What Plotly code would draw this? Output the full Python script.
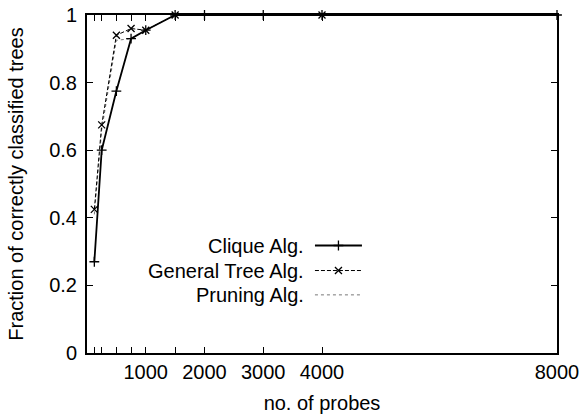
import plotly.graph_objects as go

# Data
x_ticks_all = [125, 250, 500, 750, 1000, 1500, 2000, 3000, 4000, 8000]
x_tick_text = ["", "", "", "", "1000", "", "2000", "3000", "4000", "8000"]
y_ticks = [0, 0.2, 0.4, 0.6, 0.8, 1]
y_tick_text = ["0", "0.2", "0.4", "0.6", "0.8", "1"]

clique_x = [125, 250, 500, 750, 1000, 1500, 2000, 3000, 4000, 8000]
clique_y = [0.27, 0.60, 0.775, 0.93, 0.955, 1.0, 1.0, 1.0, 1.0, 1.0]

gtree_x = [125, 250, 500, 750, 1000, 1500, 4000]
gtree_y = [0.425, 0.675, 0.94, 0.96, 0.955, 1.0, 1.0]

prune_x = [125, 250, 500, 750, 1000, 1500, 2000, 4000, 8000]
prune_y = [0.41, 0.66, 0.925, 0.93, 0.955, 1.0, 1.0, 1.0, 1.0]

legend_names = ["Clique Alg.", "General Tree Alg.", "Pruning Alg."]

FONT = "Liberation Sans, Arial, Helvetica, sans-serif"
FS = 20

fig = go.Figure()

fig.add_trace(go.Scatter(
    x=prune_x, y=prune_y, mode="lines",
    line=dict(color="#777777", width=1, dash="dot"),
    showlegend=False, cliponaxis=False))
fig.add_trace(go.Scatter(
    x=gtree_x, y=gtree_y, mode="lines+markers",
    line=dict(color="black", width=1, dash="4px,2px"),
    marker=dict(symbol="x-thin", size=7, line=dict(color="black", width=1.3)),
    showlegend=False, cliponaxis=False))
fig.add_trace(go.Scatter(
    x=clique_x, y=clique_y, mode="lines+markers",
    line=dict(color="black", width=1.8),
    marker=dict(symbol="cross-thin", size=7, line=dict(color="black", width=1.3)),
    showlegend=False, cliponaxis=False))

# Gnuplot-style key: text right-aligned, sample line on the right (on a hidden overlay axis)
key_y = [0.318, 0.244, 0.172]
sample_x0, sample_x1 = 0.485, 0.585
styles = [
    dict(line=dict(color="black", width=1.8), symbol="cross-thin"),
    dict(line=dict(color="black", width=1, dash="4px,2px"), symbol="x-thin"),
    dict(line=dict(color="#777777", width=1, dash="dot"), symbol=None),
]
for name, ky, st in zip(legend_names, key_y, styles):
    fig.add_trace(go.Scatter(
        x=[sample_x0, sample_x1], y=[ky, ky], mode="lines",
        line=st["line"], xaxis="x2", yaxis="y2", showlegend=False, hoverinfo="skip"))
    if st["symbol"]:
        fig.add_trace(go.Scatter(
            x=[(sample_x0 + sample_x1) / 2], y=[ky], mode="markers",
            marker=dict(symbol=st["symbol"], size=7, line=dict(color="black", width=1.3)),
            xaxis="x2", yaxis="y2", showlegend=False, hoverinfo="skip"))
    fig.add_annotation(
        x=0.465, y=ky, xref="x2", yref="y2", text=name, showarrow=False,
        xanchor="right", yanchor="middle", font=dict(family=FONT, size=FS, color="black"))

axis_common = dict(
    showline=True, linecolor="black", linewidth=2, mirror="allticks",
    ticks="inside", ticklen=6, tickwidth=1, tickcolor="black",
    showgrid=False, zeroline=False, automargin=False,
    tickfont=dict(family=FONT, size=FS, color="black"),
)

fig.update_layout(
    width=582, height=418,
    margin=dict(l=87, r=25, t=15, b=65),
    plot_bgcolor="white", paper_bgcolor="white",
    xaxis=dict(range=[0, 8000], tickmode="array", tickvals=x_ticks_all, ticktext=x_tick_text,
               title=dict(text="no. of probes", font=dict(family=FONT, size=FS, color="black"), standoff=14),
               **axis_common),
    yaxis=dict(range=[0, 1], tickmode="array", tickvals=y_ticks, ticktext=y_tick_text,
               ticklabelstandoff=4,
               title=dict(text="Fraction of correctly classified trees", font=dict(family=FONT, size=FS, color="black"), standoff=20),
               **axis_common),
    xaxis2=dict(range=[0, 1], overlaying="x", visible=False),
    yaxis2=dict(range=[0, 1], overlaying="y", visible=False),
    showlegend=False,
)

fig.write_html("out.html")
